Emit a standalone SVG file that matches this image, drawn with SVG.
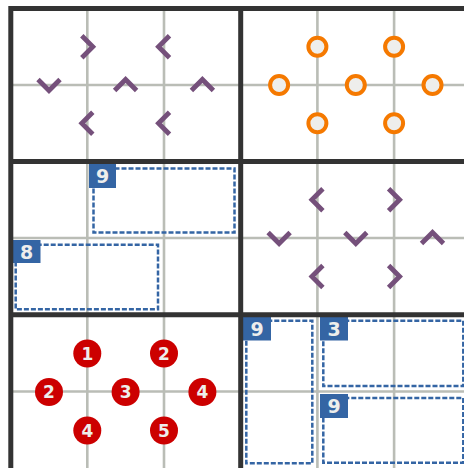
<svg xmlns="http://www.w3.org/2000/svg" xmlns:xlink="http://www.w3.org/1999/xlink" width="464" height="468" viewBox="0 0 464 468">
<style>
.thin{stroke:#babdb6;stroke-width:2.6;fill:none}
.thick{stroke:#333333;stroke-width:5;fill:none;stroke-linecap:square}
.chev{stroke:#75507b;stroke-width:4.8;fill:none;stroke-linejoin:miter;stroke-linecap:butt}
.ring{stroke:#f57900;stroke-width:4;fill:#eeeeec}
.dot{fill:#cc0000}
.dtxt{fill:#eeeeec;font-family:"DejaVu Sans",sans-serif;font-weight:bold;font-size:17px;text-anchor:middle}
.cage{stroke:#3465a4;stroke-width:2.5;fill:none;stroke-dasharray:5,2}
.lab{fill:#3465a4}
.ltxt{fill:#eeeeec;font-family:"DejaVu Sans",sans-serif;font-weight:bold;font-size:19px;text-anchor:middle}
</style>
<defs>
<path id="cR" d="M-5.5,-11 L5.5,0 L-5.5,11"/>
<path id="cL" d="M5.5,-11 L-5.5,0 L5.5,11"/>
<path id="cD" d="M-11,-5.5 L0,5.5 L11,-5.5"/>
<path id="cU" d="M-11,5.5 L0,-5.5 L11,5.5"/>
</defs>
<rect width="464" height="468" fill="#ffffff"/>
<g id="gridlines">
<path class="thin" d="M87.3,8.5V468 M164,8.5V468 M317.4,8.5V468 M394.1,8.5V468 M10.8,85H464 M10.8,238H464 M10.8,391.5H464"/>
</g>
<g id="box-top-left">
<use class="chev" xlink:href="#cR" x="87.3" y="46.75"/>
<use class="chev" xlink:href="#cL" x="164" y="46.75"/>
<use class="chev" xlink:href="#cD" x="49" y="85"/>
<use class="chev" xlink:href="#cU" x="125.6" y="85"/>
<use class="chev" xlink:href="#cU" x="202.4" y="85"/>
<use class="chev" xlink:href="#cL" x="87.3" y="123.25"/>
<use class="chev" xlink:href="#cL" x="164" y="123.25"/>
</g>
<g id="box-top-right">
<circle class="ring" cx="317.4" cy="46.75" r="9"/>
<circle class="ring" cx="394.1" cy="46.75" r="9"/>
<circle class="ring" cx="279.1" cy="85" r="9"/>
<circle class="ring" cx="355.8" cy="85" r="9"/>
<circle class="ring" cx="432.5" cy="85" r="9"/>
<circle class="ring" cx="317.4" cy="123.25" r="9"/>
<circle class="ring" cx="394.1" cy="123.25" r="9"/>
</g>
<g id="box-mid-left">
<g id="cage-9a">
<rect class="cage" x="93.5" y="168.5" width="141" height="64"/>
<rect class="lab" x="89" y="163.5" width="27" height="24.5"/>
<text class="ltxt" x="102.5" y="182.8">9</text>
</g>
<g id="cage-8">
<rect class="cage" x="15.7" y="244.7" width="142.3" height="64.6"/>
<rect class="lab" x="12.5" y="240" width="28" height="23"/>
<text class="ltxt" x="26.5" y="258.8">8</text>
</g>
</g>
<g id="box-mid-right">
<use class="chev" xlink:href="#cL" x="317.4" y="199.75"/>
<use class="chev" xlink:href="#cR" x="394.1" y="199.75"/>
<use class="chev" xlink:href="#cD" x="279.1" y="238"/>
<use class="chev" xlink:href="#cD" x="355.8" y="238"/>
<use class="chev" xlink:href="#cU" x="432.5" y="238"/>
<use class="chev" xlink:href="#cL" x="317.4" y="276.5"/>
<use class="chev" xlink:href="#cR" x="394.1" y="276.5"/>
</g>
<g id="box-bottom-left">
<g><circle class="dot" cx="87.3" cy="353.5" r="14"/><text class="dtxt" x="87.3" y="359.6">1</text></g>
<g><circle class="dot" cx="164" cy="353.5" r="14"/><text class="dtxt" x="164" y="359.6">2</text></g>
<g><circle class="dot" cx="49" cy="392" r="14"/><text class="dtxt" x="49" y="398.1">2</text></g>
<g><circle class="dot" cx="125.6" cy="392" r="14"/><text class="dtxt" x="125.6" y="398.1">3</text></g>
<g><circle class="dot" cx="202.4" cy="392" r="14"/><text class="dtxt" x="202.4" y="398.1">4</text></g>
<g><circle class="dot" cx="87.3" cy="430.5" r="14"/><text class="dtxt" x="87.3" y="436.6">4</text></g>
<g><circle class="dot" cx="164" cy="430.5" r="14"/><text class="dtxt" x="164" y="436.6">5</text></g>
</g>
<g id="box-bottom-right">
<g id="cage-9b">
<rect class="cage" x="246.3" y="320.8" width="66" height="142.5"/>
<rect class="lab" x="243" y="316.5" width="28" height="24"/>
<text class="ltxt" x="257" y="335.8">9</text>
</g>
<g id="cage-3">
<rect class="cage" x="323.3" y="320.8" width="140" height="65.2"/>
<rect class="lab" x="320" y="316.5" width="28" height="24"/>
<text class="ltxt" x="334" y="335.8">3</text>
</g>
<g id="cage-9c">
<rect class="cage" x="323.3" y="398" width="140" height="64.7"/>
<rect class="lab" x="320" y="394" width="28" height="24"/>
<text class="ltxt" x="334" y="413.3">9</text>
</g>
</g>
<g id="boxlines">
<path class="thick" d="M10.8,8.5V470 M240.7,8.5V470 M10.8,8.5H470 M10.8,161.5H470 M10.8,314.8H470"/>
</g>
</svg>
